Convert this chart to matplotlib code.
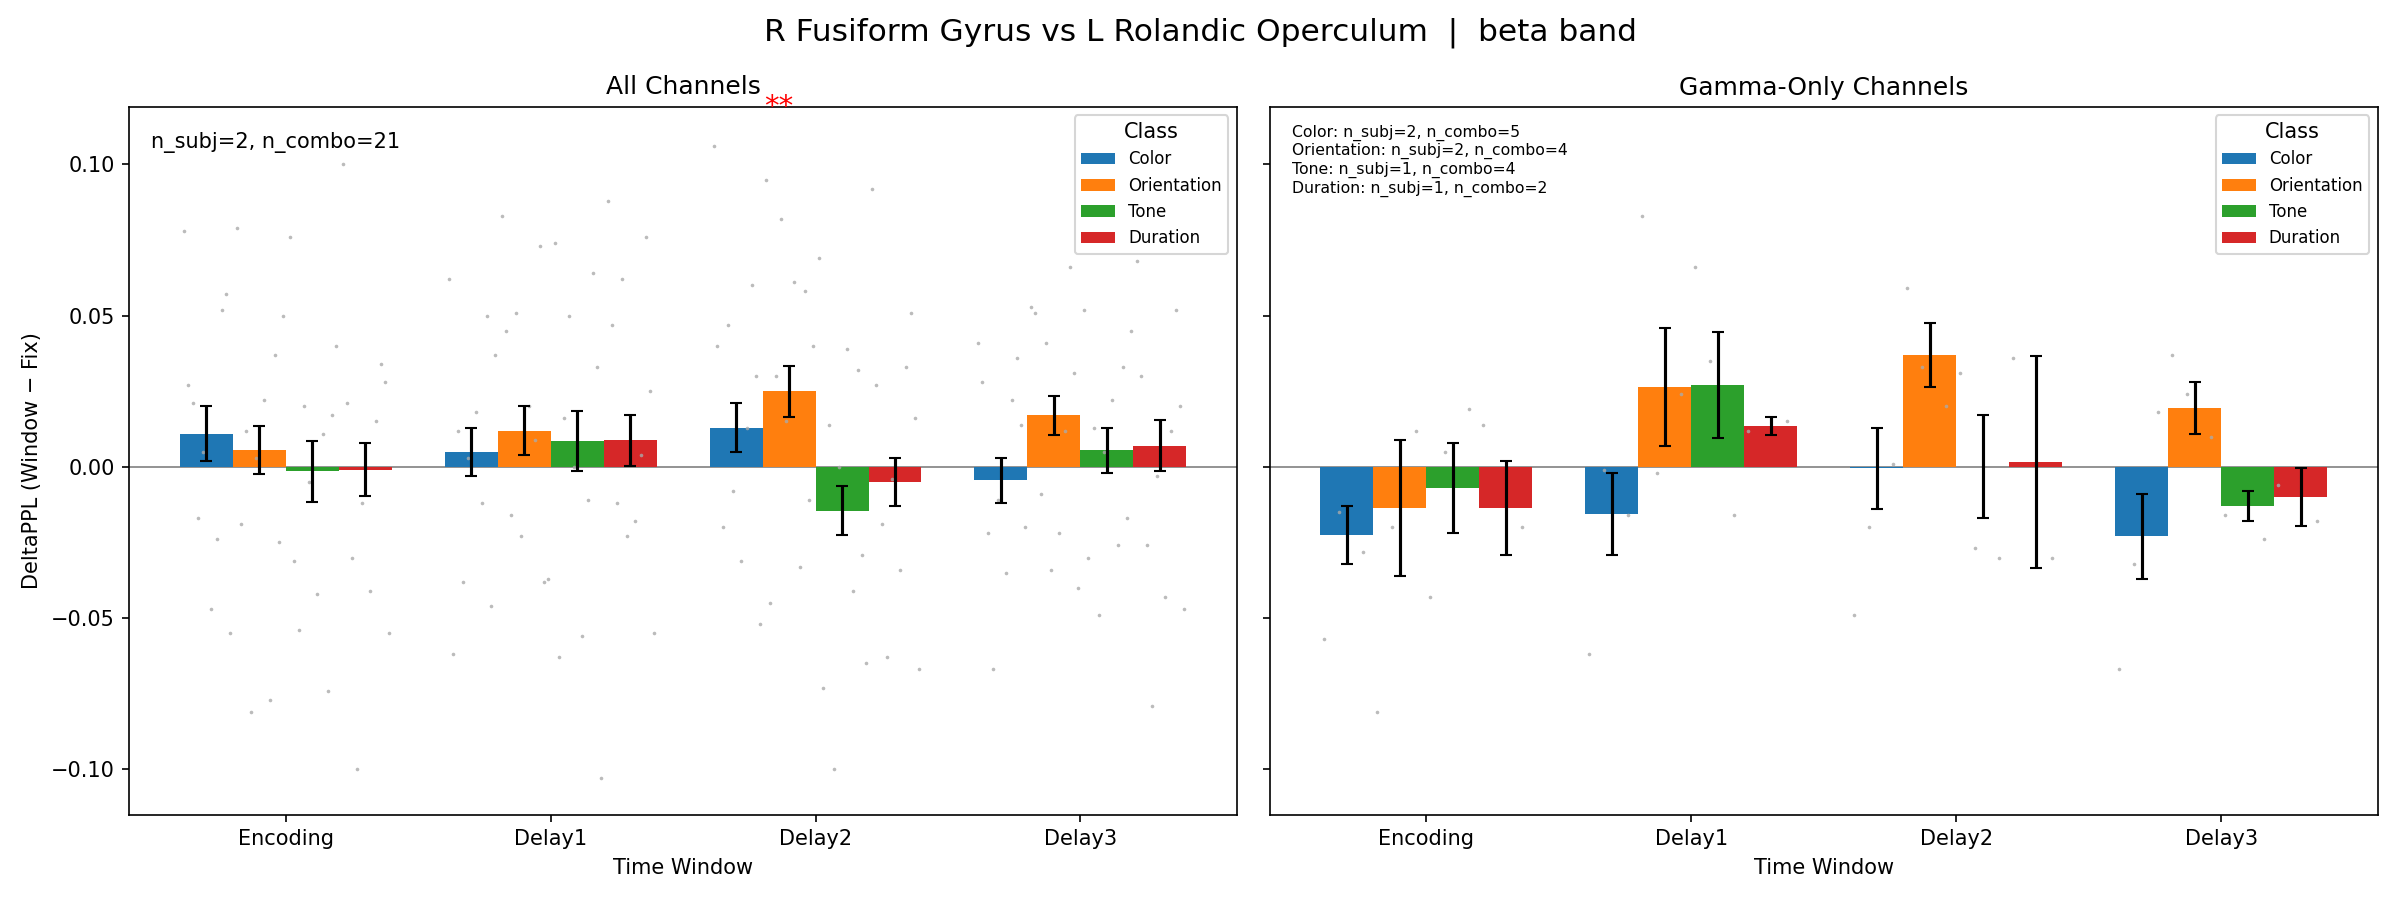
import matplotlib
matplotlib.use("Agg")
import matplotlib.pyplot as plt
import matplotlib.transforms as mtrans
import numpy as np

windows = ["Encoding", "Delay1", "Delay2", "Delay3"]
classes = ["Color", "Orientation", "Tone", "Duration"]
colors = ["#1f77b4", "#ff7f0e", "#2ca02c", "#d62728"]

all_mean = [[0.011, 0.0055, -0.0015, -0.001],
            [0.005, 0.012, 0.0085, 0.0088],
            [0.013, 0.025, -0.0145, -0.005],
            [-0.0045, 0.017, 0.0055, 0.007]]
all_err = [[0.009, 0.008, 0.010, 0.0088],
           [0.008, 0.008, 0.010, 0.0085],
           [0.008, 0.0085, 0.008, 0.008],
           [0.0075, 0.0065, 0.0075, 0.0085]]
gam_mean = [[-0.0225, -0.0135, -0.007, -0.0135],
            [-0.0155, 0.0265, 0.027, 0.0135],
            [-0.0005, 0.037, 0.0, 0.0015],
            [-0.023, 0.0195, -0.013, -0.010]]
gam_err = [[0.0095, 0.0225, 0.015, 0.0155],
           [0.0135, 0.0195, 0.0175, 0.003],
           [0.0135, 0.0105, 0.017, 0.035],
           [0.014, 0.0085, 0.005, 0.0095]]

# individual points per window, per class
all_pts = [
    [[0.078, 0.052, -0.017, -0.055, 0.027, -0.047, 0.057, 0.021, -0.024, 0.005],
     [0.079, 0.037, -0.081, 0.05, -0.019, 0.022, -0.025, 0.012, -0.077, 0.003],
     [0.076, -0.074, 0.02, 0.04, -0.031, -0.042, 0.017, -0.054, 0.011, -0.005],
     [0.1, 0.034, -0.1, -0.055, 0.021, -0.041, 0.028, -0.03, 0.015, -0.012]],
    [[0.062, 0.05, -0.038, 0.037, -0.062, 0.018, -0.046, 0.012, -0.012, 0.003],
     [0.083, 0.073, 0.051, -0.037, 0.045, 0.02, -0.038, -0.016, 0.009, -0.023],
     [0.074, 0.064, 0.05, -0.103, -0.063, -0.056, 0.033, 0.016, -0.011, 0.0],
     [0.088, 0.076, 0.062, -0.055, 0.047, -0.018, 0.025, -0.012, 0.004, -0.023]],
    [[0.106, 0.06, 0.047, -0.052, 0.04, -0.031, 0.03, -0.02, 0.013, -0.008],
     [0.095, 0.058, 0.082, 0.04, -0.045, 0.061, -0.011, 0.03, -0.033, 0.015],
     [0.069, 0.032, -0.1, -0.065, -0.073, 0.039, -0.029, 0.014, -0.041, 0.0],
     [0.092, 0.051, -0.063, -0.067, 0.027, -0.034, 0.016, -0.019, 0.033, -0.004]],
    [[0.041, 0.036, -0.067, -0.02, 0.028, -0.035, 0.014, -0.022, 0.022, -0.011],
     [0.053, 0.066, 0.041, -0.04, 0.051, -0.022, 0.031, -0.009, 0.012, -0.034],
     [0.052, 0.033, -0.049, 0.045, -0.03, 0.022, -0.017, 0.013, -0.026, 0.005],
     [0.068, 0.052, -0.079, -0.047, 0.03, -0.043, 0.02, -0.026, 0.012, -0.003]],
]
gam_pts = [
    [[-0.057, -0.028, -0.015], [-0.081, 0.012, -0.02], [-0.043, 0.019, 0.005], [0.014, -0.02]],
    [[-0.062, -0.016, -0.001], [0.083, 0.024, -0.002], [0.066, -0.016, 0.035], [0.012, 0.015]],
    [[-0.049, 0.001, -0.02], [0.059, 0.02, 0.033], [0.031, -0.03, -0.027], [0.036, -0.03]],
    [[-0.067, 0.018, -0.032], [0.037, 0.01, 0.024], [-0.016, -0.024], [-0.006, -0.018]],
]
jit = [-0.085, 0.06, -0.03, 0.09, -0.07, 0.02, 0.075, -0.05, 0.04, -0.01]

fig, axes = plt.subplots(1, 2, figsize=(16, 6), dpi=150, sharey=True)
w = 0.2
x = np.arange(len(windows))
for ax, means, errs, pts, title in [
        (axes[0], all_mean, all_err, all_pts, "All Channels"),
        (axes[1], gam_mean, gam_err, gam_pts, "Gamma-Only Channels")]:
    for ci, cls in enumerate(classes):
        off = (ci - 1.5) * w
        m = [means[wi][ci] for wi in range(4)]
        e = [errs[wi][ci] for wi in range(4)]
        ax.bar(x + off, m, w, color=colors[ci], label=cls, zorder=2)
        ax.errorbar(x + off, m, yerr=e, fmt="none", ecolor="black", capsize=3, lw=1.5, zorder=4)
        for wi in range(4):
            vals = pts[wi][ci]
            ax.scatter([x[wi] + off + jit[k] for k in range(len(vals))], vals,
                       s=3, color="#aaaaaa", alpha=0.8, zorder=3, lw=0)
    ax.axhline(0, color="gray", lw=0.8, zorder=1)
    ax.set_xticks(x)
    ax.set_xticklabels(windows)
    ax.set_xlabel("Time Window")
    ax.set_title(title)
    ax.legend(title="Class", loc="upper right", fontsize=8)

axes[0].set_ylim(-0.115, 0.119)
axes[0].set_ylabel("DeltaPPL (Window − Fix)")
axes[0].text(0.02, 0.965, "n_subj=2, n_combo=21", transform=axes[0].transAxes,
             va="top", fontsize=10)
axes[1].text(0.02, 0.975,
             "Color: n_subj=2, n_combo=5\nOrientation: n_subj=2, n_combo=4\n"
             "Tone: n_subj=1, n_combo=4\nDuration: n_subj=1, n_combo=2",
             transform=axes[1].transAxes, va="top", fontsize=7.5, linespacing=1.2)
tr = mtrans.blended_transform_factory(axes[0].transData, axes[0].transAxes)
axes[0].text(1.86, 1.0, "**", transform=tr, color="red", fontsize=14,
             ha="center", va="center", clip_on=False)
fig.suptitle("R Fusiform Gyrus vs L Rolandic Operculum  |  beta band", fontsize=15)
fig.tight_layout()
fig.subplots_adjust(wspace=0.03)
fig.savefig("out.png")
